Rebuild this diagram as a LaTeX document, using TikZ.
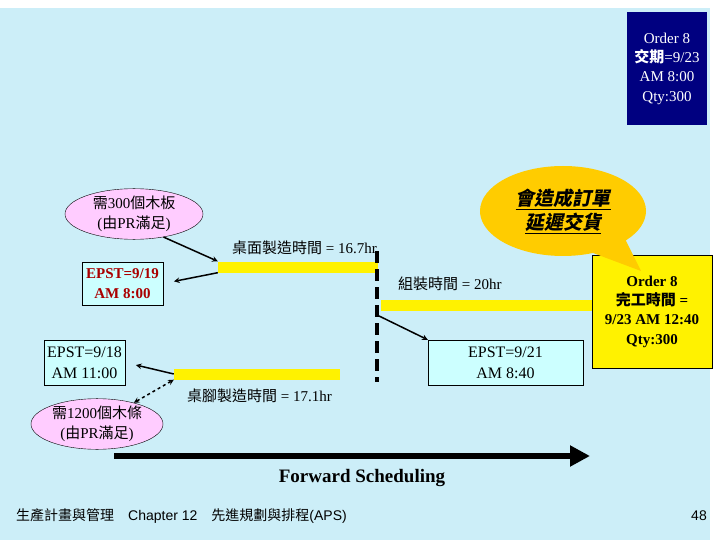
\documentclass[tikz,border=0pt]{standalone}
\usepackage{fontspec}
\setmainfont{Liberation Serif}
\setsansfont{Liberation Sans}
\newfontfamily\cjk{Noto Sans CJK TC}
\newfontfamily\cjkwarn{Noto Sans CJK TC}[FakeSlant=0.2]
\usepackage{tikz}
\usetikzlibrary{shapes,shapes.callouts,arrows,arrows.meta,positioning}
\usepackage{xcolor}
\definecolor{slidebg}{RGB}{204,238,248}
\definecolor{ordernavy}{RGB}{0,0,128}
\definecolor{warnorange}{RGB}{255,204,0}
\definecolor{prpink}{RGB}{255,204,255}
\definecolor{epstcyan}{RGB}{204,255,255}
\definecolor{epstred}{RGB}{170,0,0}
\newcommand{\zh}[1]{{\cjk #1}}

\begin{document}
\begin{tikzpicture}[
    x=1pt, y=-1pt,
    epst/.style={rectangle, draw, fill=epstcyan, align=center, inner sep=0pt,
                 font=\fontsize{16}{21}\selectfont},
    bar/.style={rectangle, fill=yellow, inner sep=0pt, minimum height=11pt},
    pr/.style={ellipse, draw, fill=prpink, align=center, inner sep=0pt,
               font=\fontsize{15}{20}\selectfont},
    lbl/.style={anchor=base west, inner sep=0pt, font=\fontsize{15}{18}\selectfont},
    arrow/.style={->, >=stealth, line width=1.5pt}
]

% Slide
\fill[white] (0,0) rectangle (720,540);
\fill[slidebg] (0,8) rectangle (710,540);
\useasboundingbox (0,0) rectangle (720,540);

% Bars
\node[bar, minimum width=160pt] (topbar) at (298,267) {};
\node[bar, minimum width=214pt] (asmbar) at (488,305) {};
\node[bar, minimum width=166pt] (legbar) at (257,374) {};

\node[lbl] (toplbl) at (232,254) {\zh{桌面製造時間} = 16.7hr};
\node[lbl] (asmlbl) at (398,289) {\zh{組裝時間} = 20hr};
\node[lbl] (leglbl) at (187,401) {\zh{桌腳製造時間} = 17.1hr};

% Dashed line
\coordinate (dtop) at (377,251);
\coordinate (dbot) at (377,382);
\coordinate (djoin) at (377,315);
\draw[line width=3.5pt, dash pattern=on 12pt off 6pt] (dtop) -- (dbot);

% Boxes
\node[rectangle, fill=ordernavy, text=white, minimum width=80pt, minimum height=113pt,
      align=center, font=\fontsize{15}{19.3}\selectfont] (order) at (667,68.5)
      {Order 8\\\zh{\bfseries 交期}=9/23\\AM 8:00\\Qty:300};

\node[pr, minimum width=138pt, minimum height=45pt] (boards) at (134,214)
      {\zh{需}300\zh{個木板}\\(\zh{由}PR\zh{滿足})};
\node[pr, minimum width=132pt, minimum height=46pt] (strips) at (97,424)
      {\zh{需}1200\zh{個木條}\\(\zh{由}PR\zh{滿足})};

\node[epst, minimum width=81pt, minimum height=43pt, text=epstred,
      font=\bfseries\fontsize{15}{20}\selectfont] (epst1) at (122.5,283.5) {EPST=9/19\\AM 8:00};
\node[epst, minimum width=81pt, minimum height=45pt] (epst2) at (84.5,362.5) {EPST=9/18\\AM 11:00};
\node[epst, minimum width=155pt, minimum height=45pt] (epst3) at (505.5,362.5) {EPST=9/21\\AM 8:40};

\node[rectangle, draw, fill=yellow, minimum width=120pt, minimum height=113pt,
      align=center, font=\bfseries\fontsize{15}{19.3}\selectfont] (finish) at (652,311.5)
      {Order 8\\\zh{完工時間} =\\9/23 AM 12:40\\Qty:300};

% Warning
\coordinate (warntip) at (641,271);
\node[ellipse callout, fill=warnorange, minimum width=166pt, minimum height=90pt, inner sep=0pt,
      callout absolute pointer={(warntip)}, callout pointer arc=28, align=center,
      font=\cjkwarn\bfseries\fontsize{19}{24}\selectfont] (warn) at (563,211)
      {\underline{會造成訂單}\\\underline{延遲交貨}};

% Arrows
\draw[arrow] (boards.-38) -- (topbar.north west);
\draw[arrow, shorten >=11pt] (topbar.south west) -- (epst1.east);
\draw[arrow] (djoin) -- (epst3.north west);
\draw[arrow, shorten >=11pt] (legbar.west) -- (epst2.east);
\draw[arrow, <->, dashed] (strips.30) -- (legbar.south west);

% Forward scheduling
\coordinate (fwstart) at (114,456);
\coordinate (fwend) at (590,456);
\draw[line width=6pt, -{Triangle[length=20pt, width=20pt]}] (fwstart) -- (fwend);
\node[font=\bfseries\fontsize{19}{22}\selectfont] (fwlbl) at (362,478) {Forward Scheduling};

% Footer
\node[anchor=base west, inner sep=0pt, font=\sffamily\fontsize{14}{16}\selectfont] (footer) at (16,520)
      {\zh{生產計畫與管理}\hspace{14pt}Chapter 12\hspace{14pt}\zh{先進規劃與排程}(APS)};
\node[anchor=base east, inner sep=0pt, font=\sffamily\fontsize{14}{16}\selectfont] (pageno) at (707,520) {48};

\end{tikzpicture}
\end{document}
